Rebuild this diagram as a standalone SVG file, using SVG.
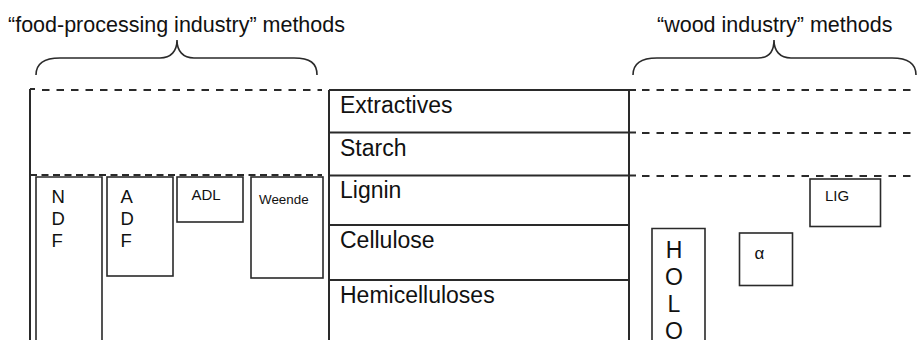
<svg xmlns="http://www.w3.org/2000/svg" width="917" height="340" viewBox="0 0 917 340">
<style>
text{font-family:"Liberation Sans",Arial,sans-serif;fill:#111}
.t{font-size:21.5px}
.row{font-size:23px}
.ln{stroke:#2a2a2a;stroke-width:2;fill:none}
.bx{stroke:#2a2a2a;stroke-width:1.6;fill:none}
.ds{stroke:#2a2a2a;stroke-width:2;fill:none;stroke-dasharray:7.5 7}
.ds2{stroke:#2a2a2a;stroke-width:2;fill:none;stroke-dasharray:7 4.5}
.br{stroke:#2a2a2a;stroke-width:1.6;fill:none}
</style>
<rect width="917" height="340" fill="#fff"/>
<g id="title-food">
<text class="t" x="8" y="32">“food-processing industry” methods</text>
<path class="br" d="M36,75 C36,63 44,58 60,58 L160,58 C171,58 177,51 177,40 C177,51 183,58 194,58 L294,58 C310,58 317,63 317,75"/>
</g>
<g id="title-wood">
<text class="t" x="657" y="32">“wood industry” methods</text>
<path class="br" d="M633,75 C633,63 641,58 657,58 L758,58 C769,58 774,51 774,40 C774,51 780,58 791,58 L892,58 C908,58 916,63 916,75"/>
</g>
<g id="connectors">
<path class="ln" d="M30,89 H35"/>
<path class="ds" d="M42,90 H322"/>
<path class="ds2" d="M30,175 H322"/>
<path class="ln" d="M30,89 V340"/>
<path class="ds" d="M642,90 H917"/>
<path class="ds" d="M642,133 H917"/>
<path class="ds" d="M642,176 H917"/>
</g>
<g id="table">
<path class="ln" d="M329,90 V340 M629,90 V340 M329,90 H636 M329,132.5 H636 M329,175.5 H636 M329,225 H629 M329,280 H629"/>
</g>
<g id="extractives"><text class="row" x="340" y="113">Extractives</text></g>
<g id="starch"><text class="row" x="340" y="156">Starch</text></g>
<g id="lignin"><text class="row" x="340" y="198">Lignin</text></g>
<g id="cellulose"><text class="row" x="340" y="248">Cellulose</text></g>
<g id="hemicelluloses"><text class="row" x="340" y="303">Hemicelluloses</text></g>
<g id="ndf">
<path class="bx" d="M36,350 V177 H102 V350"/>
<text x="51.5" y="202.5" font-size="18.5px">N</text>
<text x="51.5" y="225" font-size="18.5px">D</text>
<text x="51.5" y="247" font-size="18.5px">F</text>
</g>
<g id="adf">
<rect class="bx" x="107" y="177" width="66" height="99"/>
<text x="120.5" y="202.5" font-size="18.5px">A</text>
<text x="120.5" y="225" font-size="18.5px">D</text>
<text x="120.5" y="247" font-size="18.5px">F</text>
</g>
<g id="adl">
<rect class="bx" x="177" y="177" width="66" height="45"/>
<text x="191.5" y="199.5" font-size="15px">ADL</text>
</g>
<g id="weende">
<rect class="bx" x="251" y="177" width="72" height="101"/>
<text x="259" y="204" font-size="13.4px">Weende</text>
</g>
<g id="holo">
<path class="bx" d="M652,350 V228.5 H705 V350"/>
<text x="674" y="258" font-size="23px" text-anchor="middle">H</text>
<text x="674" y="285" font-size="23px" text-anchor="middle">O</text>
<text x="674" y="312" font-size="23px" text-anchor="middle">L</text>
<text x="674" y="339" font-size="23px" text-anchor="middle">O</text>
</g>
<g id="alpha">
<rect class="bx" x="739.5" y="233" width="53" height="52.5"/>
<text x="754.5" y="259" font-size="17px">α</text>
</g>
<g id="lig">
<rect class="bx" x="810" y="179" width="70.5" height="47.5"/>
<text x="825" y="200.5" font-size="15px">LIG</text>
</g>
</svg>
